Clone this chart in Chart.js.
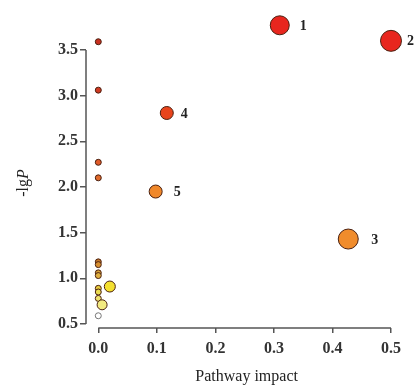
<!DOCTYPE html>
<html><head><meta charset="utf-8">
<script src="https://cdn.jsdelivr.net/npm/chart.js@4/dist/chart.umd.min.js"></script>
<style>html,body{margin:0;padding:0;background:#fff}#wrap{width:416px;height:386px}</style>
</head><body><div id="wrap"><canvas id="c" width="416" height="386"></canvas></div>
<script>
// Data
const pathwayImpact = [0.310, 0.500, 0.427, 0.117, 0.098, 0, 0, 0, 0, 0, 0, 0, 0, 0, 0, 0, 0.0065, 0.0197, 0];
const negLogP       = [3.77, 3.60, 1.43, 2.81, 1.95, 3.59, 3.06, 2.27, 2.10, 1.18, 1.15, 1.06, 1.03, 0.89, 0.85, 0.78, 0.71, 0.91, 0.59];
const pointLabels   = ["1", "2", "3", "4", "5", "", "", "", "", "", "", "", "", "", "", "", "", "", ""];
const xTicks = [0, 0.1, 0.2, 0.3, 0.4, 0.5];
const yTicks = [0.5, 1.0, 1.5, 2.0, 2.5, 3.0, 3.5];

// Styles
const pointRadii  = [9.5, 10.5, 10, 6.5, 6.5, 3, 3, 3, 3, 3, 3, 3, 3, 3, 3, 3, 5, 5.5, 3];
const pointColors = ["#e8261e", "#e8261e", "#f08c2c", "#e8441c", "#f0882a", "#c83020", "#d03a22", "#e05a28", "#e06a2c",
                     "#c87828", "#d89030", "#d8a038", "#e0b040", "#e8cc40", "#eadc50", "#f0e470", "#f2ea80", "#f4e030", "#ffffff"];
const labelOffsets = [20, 16, 23, 14, 18];

const serif = "'Liberation Serif','Times New Roman',serif";
const axisColor = "#555";

const decor = {
  id: 'decor',
  afterDraw(chart) {
    const ctx = chart.ctx, xs = chart.scales.x, ys = chart.scales.y, ca = chart.chartArea;
    ctx.save();
    ctx.strokeStyle = axisColor; ctx.lineWidth = 1.5;
    ctx.beginPath();
    ctx.moveTo(ca.left, ys.getPixelForValue(yTicks[yTicks.length-1]));
    ctx.lineTo(ca.left, ys.getPixelForValue(yTicks[0]));
    ctx.moveTo(xs.getPixelForValue(xTicks[0]), ca.bottom);
    ctx.lineTo(xs.getPixelForValue(xTicks[xTicks.length-1]), ca.bottom);
    ctx.stroke();
    // point labels
    ctx.fillStyle = "#222";
    ctx.font = "bold 14px " + serif;
    ctx.textBaseline = "middle"; ctx.textAlign = "left";
    pathwayImpact.forEach((v, i) => {
      if (!pointLabels[i]) return;
      ctx.fillText(pointLabels[i], xs.getPixelForValue(v) + labelOffsets[i], ys.getPixelForValue(negLogP[i]) + 1);
    });
    // x title
    ctx.font = "16px " + serif;
    ctx.textAlign = "center";
    ctx.fillStyle = "#222";
    ctx.fillText("Pathway impact", (xs.getPixelForValue(xTicks[0]) + xs.getPixelForValue(xTicks[xTicks.length-1])) / 2 + 2, 377);
    // y title: -lgP with italic P
    ctx.save();
    ctx.translate(24, 183);
    ctx.rotate(-Math.PI / 2);
    ctx.font = "16px " + serif;
    const w1 = ctx.measureText("-lg").width;
    ctx.font = "italic 16px " + serif;
    const w2 = ctx.measureText("P").width;
    const start = -(w1 + w2) / 2;
    ctx.textAlign = "left";
    ctx.font = "16px " + serif;
    ctx.fillText("-lg", start, 0);
    ctx.font = "italic 16px " + serif;
    ctx.fillText("P", start + w1, 0);
    ctx.restore();
    ctx.restore();
  }
};

new Chart(document.getElementById('c'), {
  type: 'scatter',
  data: {
    datasets: [{
      data: pathwayImpact.map((v, i) => ({ x: v, y: negLogP[i] })),
      pointRadius: pointRadii,
      pointHoverRadius: pointRadii,
      backgroundColor: pointColors,
      borderColor: pointColors.map(c => c === "#ffffff" ? "#777" : "#4a2010"),
      borderWidth: 1,
      clip: false
    }]
  },
  options: {
    responsive: false,
    animation: false,
    devicePixelRatio: 1,
    layout: { padding: { top: 10, right: 13, left: 0, bottom: 0 } },
    plugins: { legend: { display: false }, tooltip: { enabled: false } },
    scales: {
      x: {
        type: 'linear', min: -0.021, max: 0.5205,
        afterBuildTicks: s => { s.ticks = xTicks.map(v => ({ value: v })); },
        afterFit: s => { s.height = 58; },
        grid: { drawOnChartArea: false, color: axisColor, lineWidth: 1.5, tickLength: 5 },
        border: { display: false },
        ticks: { color: "#333", padding: 6, maxRotation: 0, font: { family: serif, size: 16, weight: 'bold' },
                 callback: v => Number(v).toFixed(1) }
      },
      y: {
        type: 'linear', min: 0.456, max: 3.92,
        afterBuildTicks: s => { s.ticks = yTicks.map(v => ({ value: v })); },
        afterFit: s => { s.width = 86; },
        grid: { drawOnChartArea: false, color: axisColor, lineWidth: 1.5, tickLength: 6 },
        border: { display: false },
        ticks: { color: "#333", padding: 2, font: { family: serif, size: 16, weight: 'bold' },
                 callback: v => Number(v).toFixed(1) }
      }
    }
  },
  plugins: [decor]
});
</script></body></html>
